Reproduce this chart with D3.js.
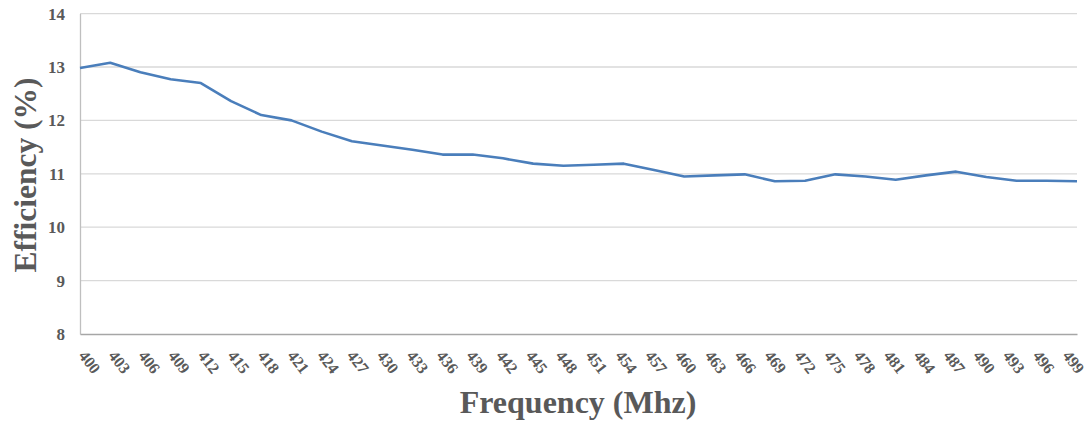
<!DOCTYPE html>
<html><head><meta charset="utf-8">
<script src="https://cdn.jsdelivr.net/npm/d3@7"></script>
<style>body{margin:0;background:#fff}svg{display:block}</style>
</head><body>
<script>
const categories = [400,403,406,409,412,415,418,421,424,427,430,433,436,439,442,445,448,451,454,457,460,463,466,469,472,475,478,481,484,487,490,493,496,499];
const efficiency = [12.98,13.08,12.9,12.77,12.7,12.36,12.1,12.0,11.79,11.61,11.53,11.45,11.36,11.36,11.29,11.19,11.15,11.17,11.19,11.07,10.95,10.97,10.99,10.86,10.87,10.99,10.95,10.89,10.97,11.04,10.94,10.87,10.87,10.86];
const yTicks = [8,9,10,11,12,13,14];
const yTitle = "Efficiency (%)";
const xTitle = "Frequency (Mhz)";

const W = 1089, H = 426;
const FONT = "'Liberation Serif', 'Times New Roman', serif";
const svg = d3.select("body").append("svg").attr("width", W).attr("height", H);
const x = d3.scalePoint().domain(categories.map(String)).range([80, 1077]).padding(0);
const xLab = d3.scalePoint().domain(categories.map(String)).range([78, 1062]).padding(0);
const y = d3.scaleLinear().domain([8,14]).range([334, 13.6]);

// gridlines
svg.append("g").selectAll("line").data(yTicks.filter(d=>d>8)).join("line")
  .attr("x1", 80).attr("x2", 1077).attr("y1", d=>y(d)).attr("y2", d=>y(d))
  .attr("stroke", "#d9d9d9").attr("stroke-width", 1.3);

// y axis
const ya = svg.append("g").attr("transform","translate(80,0)")
  .call(d3.axisLeft(y).tickValues(yTicks).tickSize(0).tickPadding(15).tickFormat(d3.format("d")));
ya.select(".domain").attr("stroke","#bfbfbf").attr("stroke-width",1.3);
ya.selectAll("text").attr("font-family",FONT).attr("font-weight","bold")
  .attr("font-size",17).attr("fill","#595959");

// x axis line
const xa = svg.append("g").attr("transform","translate(0,334)")
  .call(d3.axisBottom(x).tickSize(0).tickFormat(""));
xa.select(".domain").attr("stroke","#a6a6a6").attr("stroke-width",1.3);

// x tick labels
svg.append("g").selectAll("text").data(categories).join("text")
  .attr("transform", d=>`translate(${xLab(String(d))},356) rotate(52)`)
  .attr("text-anchor","start")
  .attr("font-family",FONT).attr("font-weight","bold")
  .attr("font-size",16).attr("fill","#595959").text(d=>d);

// line
svg.append("path").datum(efficiency)
  .attr("fill","none").attr("stroke","#4a7ebb").attr("stroke-width",2.6)
  .attr("stroke-linejoin","round")
  .attr("d", d3.line().x((d,i)=>x(String(categories[i]))).y(d=>y(d)));

// titles
svg.append("text").attr("transform","translate(36,175) rotate(-90)")
  .attr("text-anchor","middle").attr("font-family",FONT)
  .attr("font-weight","bold").attr("font-size",31.5).attr("fill","#595959").text(yTitle);
svg.append("text").attr("x",578).attr("y",413)
  .attr("text-anchor","middle").attr("font-family",FONT)
  .attr("font-weight","bold").attr("font-size",32).attr("fill","#595959").text(xTitle);
</script>
</body></html>
